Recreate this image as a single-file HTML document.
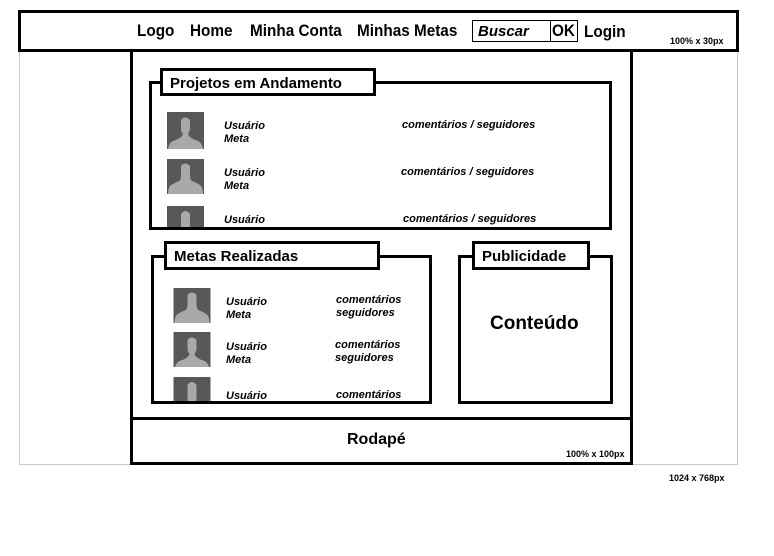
<!DOCTYPE html>
<html><head><meta charset="utf-8"><style>
body{margin:0;width:774px;height:556px;background:#fff;position:relative;overflow:hidden;font-family:"Liberation Sans",Arial,sans-serif;}
.a{position:absolute;box-sizing:border-box;}
.b3{border:3px solid #000;}
.t{position:absolute;white-space:nowrap;color:#000;}
.bi{font-weight:bold;font-style:italic;font-size:11px;}
.h{font-weight:bold;font-size:17px;transform:scaleX(0.9);transform-origin:0 0;}
.tab{background:#fff;font-weight:bold;font-size:15px;padding:4px 0 0 7px;line-height:17px;}
.av{position:absolute;overflow:hidden;}
</style></head><body>
<div class="a" style="left:19px;top:50px;width:719px;height:415px;border:1px solid #c8c8c8;"></div>
<div class="a b3" style="left:18px;top:10px;width:721px;height:42px;background:#fff;"></div>
<div class="t h" style="left:137px;top:21px;">Logo</div>
<div class="t h" style="left:190px;top:21px;">Home</div>
<div class="t h" style="left:250px;top:21px;">Minha Conta</div>
<div class="t h" style="left:357px;top:21px;">Minhas Metas</div>
<div class="a" style="left:472px;top:20px;width:79px;height:22px;border:1px solid #000;"></div>
<div class="a" style="left:550px;top:20px;width:28px;height:22px;border:1px solid #000;"></div>
<div class="t" style="left:478px;top:23px;font-size:15px;font-weight:bold;font-style:italic;">Buscar</div>
<div class="t h" style="left:552px;top:21px;">OK</div>
<div class="t h" style="left:584px;top:22px;">Login</div>
<div class="t" style="left:670px;top:36px;font-size:9px;font-weight:bold;">100% x 30px</div>

<div class="a b3" style="left:130px;top:49px;width:503px;height:371px;"></div>
<div class="a b3" style="left:130px;top:417px;width:503px;height:48px;"></div>
<div class="t" style="left:347px;top:431px;font-size:16px;font-weight:bold;">Rodapé</div>
<div class="t" style="left:566px;top:449px;font-size:9px;font-weight:bold;">100% x 100px</div>
<div class="t" style="left:669px;top:473px;font-size:9px;font-weight:bold;">1024 x 768px</div>

<div class="a b3" style="left:149px;top:81px;width:463px;height:149px;"></div>
<div class="a b3 tab" style="left:160px;top:68px;width:216px;height:28px;">Projetos em Andamento</div>

<div class="a b3" style="left:151px;top:255px;width:281px;height:149px;"></div>
<div class="a b3 tab" style="left:164px;top:241px;width:216px;height:29px;">Metas Realizadas</div>

<div class="a b3" style="left:458px;top:255px;width:155px;height:149px;"></div>
<div class="a b3 tab" style="left:472px;top:241px;width:118px;height:29px;">Publicidade</div>
<div class="t" style="left:490px;top:313px;font-size:19px;font-weight:bold;">Conteúdo</div>

<svg class="av" style="left:167px;top:112px" width="37" height="37" viewBox="0 0 37 37"><rect width="37" height="37" fill="#585858"/><path d="M14 8q4-5 9 0v9q-1 4-2 5q1 4 10 7q4 2 5 8H1q1-6 5-8q9-3 10-7q-2-2-2-5z" fill="#a9a9a9"/></svg>
<svg class="av" style="left:167px;top:159px" width="37" height="35" viewBox="0 0 37 35"><rect width="37" height="35" fill="#585858"/><path d="M14 7q4-5 9 0v9q0 5 2 6q7 3 9 5q2 3 2 8H1q0-5 2-8q2-2 9-5q2-1 2-6z" fill="#a9a9a9"/></svg>
<svg class="av" style="left:167px;top:206px" width="37" height="21" viewBox="0 0 37 21"><rect width="37" height="21" fill="#585858"/><path d="M14 8q4-6 9 0v13H14z" fill="#a9a9a9"/></svg>

<svg class="av" style="left:173px;top:288px" width="38" height="35" viewBox="0 0 37 35"><rect width="37" height="35" fill="#585858"/><path d="M14 7q4-5 9 0v9q0 5 2 6q7 3 9 5q2 3 2 8H1q0-5 2-8q2-2 9-5q2-1 2-6z" fill="#a9a9a9"/></svg>
<svg class="av" style="left:173px;top:332px" width="38" height="35" viewBox="0 0 37 35"><rect width="37" height="35" fill="#585858"/><path d="M14 8q4-5 9 0v9q-1 4-2 5q1 4 10 7q4 2 5 8H1q1-6 5-8q9-3 10-7q-2-2-2-5z" fill="#a9a9a9"/></svg>
<svg class="av" style="left:173px;top:377px" width="38" height="24" viewBox="0 0 37 24"><rect width="37" height="24" fill="#585858"/><path d="M14 8q4-6 9 0v16H14z" fill="#a9a9a9"/></svg>

<div class="t bi" style="left:224px;top:120px;line-height:13px;">Usuário<br>Meta</div>
<div class="t bi" style="left:402px;top:119px;">comentários / seguidores</div>
<div class="t bi" style="left:224px;top:167px;line-height:13px;">Usuário<br>Meta</div>
<div class="t bi" style="left:401px;top:166px;">comentários / seguidores</div>
<div class="t bi" style="left:224px;top:214px;">Usuário</div>
<div class="t bi" style="left:403px;top:213px;">comentários / seguidores</div>

<div class="t bi" style="left:226px;top:296px;line-height:13px;">Usuário<br>Meta</div>
<div class="t bi" style="left:336px;top:294px;line-height:13px;">comentários<br>seguidores</div>
<div class="t bi" style="left:226px;top:341px;line-height:13px;">Usuário<br>Meta</div>
<div class="t bi" style="left:335px;top:339px;line-height:13px;">comentários<br>seguidores</div>
<div class="t bi" style="left:226px;top:390px;">Usuário</div>
<div class="t bi" style="left:336px;top:389px;">comentários</div>
</body></html>
